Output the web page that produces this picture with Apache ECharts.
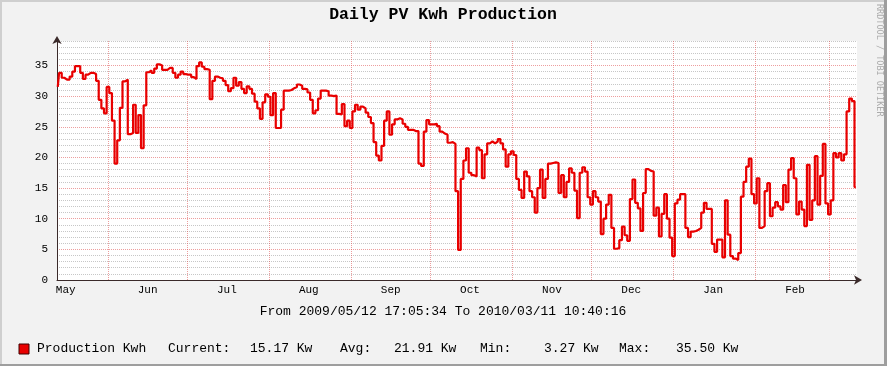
<!DOCTYPE html>
<html><head><meta charset="utf-8">
<script src="https://cdn.jsdelivr.net/npm/echarts@6/dist/echarts.min.js"></script>
<style>html,body{margin:0;padding:0;background:#F2F2F2}#c{width:887px;height:366px}</style>
</head><body><div id="c"></div>
<script>
// ---------------- data ----------------
const TITLE = 'Daily PV Kwh Production';
const RANGE_START = [2009, 4, 12, 17, 5, 34];   // 2009/05/12 17:05:34
const RANGE_END   = [2010, 2, 11, 10, 40, 16];  // 2010/03/11 10:40:16
const FIRST_SAMPLE_DAY = [2009, 4, 13];         // one value per day from here
const kwh = [
 31.5,33.8,33.0,32.7,32.7,33.2,34.0,34.9,34.9,33.8,
 32.8,33.5,33.8,33.8,33.6,32.5,29.4,28.0,27.2,31.5,
 30.5,26.0,19.0,22.8,28.1,32.4,32.7,23.8,24.0,28.6,
 24.0,26.9,21.5,28.5,33.9,34.2,33.8,34.5,35.2,35.0,
 34.3,34.3,34.6,34.6,33.8,33.0,33.5,34.0,33.6,33.5,
 33.5,33.1,32.8,34.9,35.5,34.8,34.4,34.3,29.5,32.5,
 33.2,33.0,32.9,32.5,31.8,30.8,31.3,33.0,31.7,32.3,
 31.2,30.5,31.6,31.2,30.4,29.1,28.0,26.3,29.0,30.3,
 29.9,26.9,30.5,24.8,24.8,27.8,30.9,30.9,31.0,31.3,
 31.5,31.9,31.7,31.2,31.1,30.6,29.4,27.2,27.7,29.6,
 30.9,30.9,30.8,30.1,30.0,30.1,27.1,27.0,28.7,25.1,
 26.0,24.8,27.5,28.6,27.8,28.3,28.0,27.3,26.6,25.6,
 22.5,20.3,19.5,21.9,26.0,27.5,23.7,25.4,26.2,26.4,
 26.2,25.5,25.0,24.5,24.5,24.3,24.3,19.0,18.6,24.2,
 26.1,25.4,25.4,25.5,25.1,24.2,23.9,23.7,22.4,22.5,
 22.2,14.5,4.9,16.5,19.5,21.5,17.5,17.1,16.9,21.6,
 21.2,16.6,20.5,22.3,22.6,22.3,22.6,23.0,22.3,21.3,
 18.5,20.5,21.0,20.4,16.5,14.7,13.4,17.7,16.9,14.5,
 13.5,11.0,15.0,18.0,13.4,16.5,19.0,19.1,19.2,19.1,
 14.2,17.1,13.5,16.0,18.2,17.5,14.6,10.1,17.5,18.4,
 17.7,13.5,12.3,14.5,13.5,12.8,7.5,10.0,12.3,13.9,
 8.5,5.1,5.2,6.5,8.7,7.3,6.4,13.2,16.4,12.6,
 11.7,8.0,14.2,18.1,17.8,17.7,10.5,11.8,7.1,10.8,
 14.0,10.0,6.9,3.9,12.5,13.1,14.0,14.0,8.5,7.0,
 7.9,8.0,8.2,8.5,11.0,12.6,11.6,11.6,5.9,4.6,
 6.6,6.6,3.7,13.0,7.4,3.9,3.5,3.27,4.4,13.6,
 16.0,18.5,19.8,14.0,12.5,16.6,8.5,8.8,14.5,15.8,
 10.4,11.8,12.7,12.0,11.5,15.5,12.7,18.0,19.9,16.6,
 10.7,12.8,11.5,8.8,18.8,9.8,13.0,20.2,12.3,17.0,
 22.2,12.5,10.7,13.0,20.7,20.0,20.7,19.5,20.5,27.5,
 29.6,29.2,15.17
];
const gridMonthStarts = [[2009,5],[2009,6],[2009,7],[2009,8],[2009,9],[2009,10],[2009,11],[2010,0],[2010,1],[2010,2]];
const labelMonths = [[2009,4],[2009,5],[2009,6],[2009,7],[2009,8],[2009,9],[2009,10],[2009,11],[2010,0],[2010,1]];
const monthAbbr = ['Jan','Feb','Mar','Apr','May','Jun','Jul','Aug','Sep','Oct','Nov','Dec'];
const Y_MIN = 0, Y_MAX = 39, Y_MAJOR = 5, Y_MINOR = 1;
const seriesName = 'Production Kwh';
const statNames = ['Current:', 'Avg:', 'Min:', 'Max:'];
const statValues = ['15.17', '21.91', '3.27', '35.50'];
const statUnit = 'Kw';
const WATERMARK = 'RRDTOOL / TOBI OETIKER';

// ---------------- build ----------------
const ts = a => new Date(a[0], a[1], a[2] || 1, a[3] || 0, a[4] || 0, a[5] || 0).getTime();
const tStart = ts(RANGE_START), tEnd = ts(RANGE_END);
const seriesData = kwh.map((v, i) => [new Date(FIRST_SAMPLE_DAY[0], FIRST_SAMPLE_DAY[1], FIRST_SAMPLE_DAY[2] + i).getTime(), v]);
const gridTicks = gridMonthStarts.map(m => new Date(m[0], m[1], 1).getTime());
const labelTicks = labelMonths.map(m => new Date(m[0], m[1], 16).getTime());
const pad2 = n => String(n).padStart(2, '0');
const fmt = a => a[0] + '/' + pad2(a[1] + 1) + '/' + pad2(a[2]) + ' ' + pad2(a[3]) + ':' + pad2(a[4]) + ':' + pad2(a[5]);

const MONO = 'Liberation Mono';
const RED = '#e80000';
const MINOR = 'rgba(143,143,143,0.5)';
const MAJOR = 'rgba(222,79,79,0.55)';
const T = 'rgba(0,0,0,0)';

const majorColors = [];
for (let v = Y_MIN; v <= Y_MAX; v += Y_MAJOR) majorColors.push(MAJOR);
majorColors.push(T); // top extent line drawn by minor axis
const minorColors = [T]; for (let i = 1; i < Y_MAJOR / Y_MINOR; i++) minorColors.push(MINOR);

const legendX = [168, 340, 480, 619];
const valueX = [250, 394, 544, 676];
const graphics = [
  {type: 'rect', shape: {x: 0, y: 0, width: 887, height: 2}, style: {fill: '#CFCFCF'}, silent: true},
  {type: 'rect', shape: {x: 0, y: 0, width: 2, height: 366}, style: {fill: '#CFCFCF'}, silent: true},
  {type: 'rect', shape: {x: 884, y: 0, width: 3, height: 366}, style: {fill: '#9E9E9E'}, silent: true},
  {type: 'rect', shape: {x: 0, y: 364, width: 887, height: 2}, style: {fill: '#9E9E9E'}, silent: true},
  {type: 'text', x: 443, y: 15, style: {text: TITLE, font: 'bold 16.5px "' + MONO + '"', fill: '#000', textAlign: 'center', textVerticalAlign: 'middle'}},
  {type: 'text', x: 443, y: 312, style: {text: 'From ' + fmt(RANGE_START) + ' To ' + fmt(RANGE_END), font: '13px "' + MONO + '"', fill: '#000', textAlign: 'center', textVerticalAlign: 'middle'}},
  {type: 'text', x: 879, y: 4, rotation: -Math.PI / 2, style: {text: WATERMARK, font: '8.5px "DejaVu Sans Mono"', fill: '#ABABAB', textAlign: 'left', textVerticalAlign: 'middle'}},
  {type: 'rect', shape: {x: 19, y: 344, width: 10, height: 10}, style: {fill: RED, stroke: '#400000', lineWidth: 1}},
  {type: 'text', x: 37, y: 349, style: {text: seriesName, font: '13px "' + MONO + '"', fill: '#000', textVerticalAlign: 'middle'}}
];
statNames.forEach((n, i) => {
  graphics.push({type: 'text', x: legendX[i], y: 349, style: {text: n, font: '13px "' + MONO + '"', fill: '#000', textVerticalAlign: 'middle'}});
  graphics.push({type: 'text', x: valueX[i], y: 349, style: {text: statValues[i] + ' ' + statUnit, font: '13px "' + MONO + '"', fill: '#000', textVerticalAlign: 'middle'}});
});

const chart = echarts.init(document.getElementById('c'), null, {renderer: 'canvas'});
chart.setOption({
  backgroundColor: '#F2F2F2',
  animation: false,
  grid: {left: 57, right: 30, top: 41, bottom: 86, show: true, backgroundColor: '#FFFFFF', borderWidth: 0},
  xAxis: {
    type: 'value', min: tStart, max: tEnd, scale: true,
    axisLine: {show: true, symbol: ['none', 'arrow'], symbolSize: [7, 8], symbolOffset: [0, 5], lineStyle: {color: '#3a2a2a', width: 1}},
    axisTick: {show: false, customValues: gridTicks},
    splitLine: {show: true, lineStyle: {color: MAJOR, width: 1, type: [1, 1]}},
    axisLabel: {customValues: labelTicks, formatter: v => monthAbbr[new Date(v).getMonth()], fontFamily: MONO, fontSize: 11, color: '#000', margin: 5, hideOverlap: false}
  },
  yAxis: [{
    type: 'value', min: Y_MIN, max: Y_MAX, interval: Y_MAJOR,
    axisLine: {show: true, symbol: ['none', 'arrow'], symbolSize: [7, 8], symbolOffset: [0, 5], lineStyle: {color: '#3a2a2a', width: 1}},
    axisTick: {show: false},
    axisLabel: {showMaxLabel: false, fontFamily: MONO, fontSize: 11, color: '#000', margin: 9},
    splitLine: {show: true, lineStyle: {color: majorColors, width: 1, type: [1, 1]}}
  }, {
    type: 'value', min: Y_MIN, max: Y_MAX, interval: Y_MINOR,
    axisLine: {show: false}, axisTick: {show: false}, axisLabel: {show: false},
    splitLine: {show: true, lineStyle: {color: minorColors, width: 1, type: [1, 1]}}
  }],
  series: [{
    name: seriesName, type: 'line', data: seriesData, step: 'middle',
    showSymbol: false, symbol: 'none', z: 5,
    lineStyle: {color: RED, width: 2.2}, itemStyle: {color: RED}
  }],
  graphic: graphics
});
</script></body></html>
